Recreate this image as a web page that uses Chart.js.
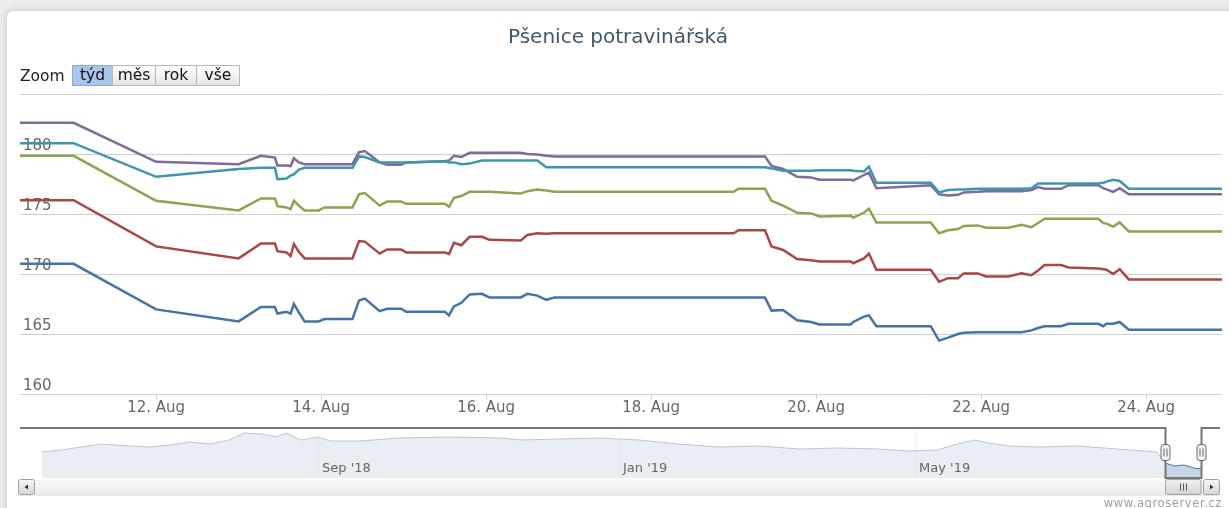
<!DOCTYPE html>
<html lang="cs">
<head>
<meta charset="utf-8">
<title>Pšenice potravinářská</title>
<script src="https://cdn.jsdelivr.net/npm/chart.js@4.4.1/dist/chart.umd.min.js"></script>
<style>
  html, body { margin: 0; padding: 0; }
  body { width: 1229px; height: 508px; overflow: hidden; background: #ececec; position: relative; font-family: "DejaVu Sans", sans-serif; }
  #panel { position: absolute; left: 7px; top: 11px; width: 1240px; height: 520px; background: #fff; border-radius: 6px; box-shadow: 0 0 7px rgba(0,0,0,0.18); }
  #mainWrap { position: absolute; left: 0; top: 0; width: 1229px; height: 420px; }
  #navWrap { position: absolute; left: 0; top: 415px; width: 1229px; height: 93px; }
  #zoom { position: absolute; left: 20px; top: 65px; height: 21px; display: flex; align-items: center; font-size: 15.5px; color: #222; }
  #zoom .lbl { width: 53px; }
  #zoom .btn { box-sizing: border-box; height: 21px; line-height: 19px; border: 1px solid #b8b8b8; background: linear-gradient(#ffffff, #e4e4e4); text-align: center; margin-left: -1px; color: #111; }
  #zoom .btn.on { background: #a9c5ec; border-color: #8aaad6; }
  #credits { position: absolute; right: 7px; top: 496px; font-size: 11.5px; letter-spacing: 0.6px; color: #a0a0a0; }
</style>
</head>
<body>
<div id="panel"></div>
<div id="mainWrap"><canvas id="mainChart"></canvas></div>
<div id="navWrap"><canvas id="navChart"></canvas></div>
<div id="zoom">
  <span class="lbl">Zoom</span>
  <span class="btn on" style="width:41px">týd</span>
  <span class="btn" style="width:44px">měs</span>
  <span class="btn" style="width:42px">rok</span>
  <span class="btn" style="width:44px">vše</span>
</div>
<div id="credits">www.agroserver.cz</div>

<script>
const chartTitle = 'Pšenice potravinářská';
const monthName = 'Aug';

// den v srpnu 2019 (desetinne = cast dne)
const days = [10.35, 11.0, 12.0, 13.0, 13.27, 13.44, 13.47, 13.58, 13.63, 13.67,
  13.73, 13.80, 13.97, 14.04, 14.38, 14.46, 14.53, 14.71, 14.80, 14.97,
  15.03, 15.50, 15.55, 15.61, 15.70, 15.80, 15.95, 16.04, 16.42, 16.50,
  16.62, 16.73, 16.83, 19.00, 19.06, 19.38, 19.46, 19.60, 19.77, 19.94,
  20.04, 20.42, 20.45, 20.58, 20.64, 20.73, 21.39, 21.49, 21.60, 21.72,
  21.79, 21.96, 22.06, 22.33, 22.49, 22.61, 22.69, 22.77, 22.97, 23.06,
  23.42, 23.48, 23.52, 23.60, 23.68, 23.79, 24.92];

const blueValues = [170.85, 170.85, 167.05, 166.05, 167.25, 167.25, 166.7, 166.85, 166.7, 167.5,
  166.8, 166.05, 166.05, 166.25, 166.25, 167.8, 167.95, 166.9, 167.1, 167.1,
  166.85, 166.85, 166.55, 167.3, 167.6, 168.3, 168.35, 168.05, 168.05, 168.35,
  168.2, 167.85, 168.05, 168.05, 168.05, 168.05, 166.95, 167.0, 166.15, 166.0,
  165.8, 165.8, 166.0, 166.45, 166.55, 165.65, 165.65, 164.45, 164.7, 165.0,
  165.1, 165.15, 165.15, 165.15, 165.15, 165.3, 165.5, 165.65, 165.65, 165.85,
  165.85, 165.65, 165.85, 165.85, 166.0, 165.35, 165.35];

const redValues = [176.15, 176.15, 172.3, 171.3, 172.55, 172.55, 171.9, 171.8, 171.5, 172.5,
  171.85, 171.3, 171.3, 171.3, 171.3, 172.75, 172.7, 171.7, 172.05, 172.05,
  171.8, 171.8, 171.65, 172.6, 172.4, 173.1, 173.1, 172.85, 172.8, 173.25,
  173.4, 173.35, 173.4, 173.4, 173.65, 173.65, 172.3, 172.0, 171.25, 171.15,
  171.05, 171.05, 170.9, 171.3, 171.7, 170.35, 170.35, 169.35, 169.65, 169.65,
  170.05, 170.05, 169.8, 169.8, 170.05, 169.9, 170.3, 170.75, 170.75, 170.55,
  170.45, 170.4, 170.35, 170.0, 170.4, 169.55, 169.55];

const greenValues = [179.85, 179.85, 176.1, 175.3, 176.3, 176.3, 175.65, 175.55, 175.4, 176.1,
  175.7, 175.3, 175.3, 175.55, 175.55, 176.65, 176.75, 175.7, 176.05, 176.05,
  175.85, 175.85, 175.6, 176.35, 176.5, 176.85, 176.85, 176.85, 176.7, 176.9,
  177.05, 176.95, 176.85, 176.85, 177.1, 177.1, 176.1, 175.7, 175.1, 175.05,
  174.8, 174.85, 174.7, 175.1, 175.45, 174.3, 174.3, 173.4, 173.65, 173.75,
  174.0, 174.05, 173.85, 173.85, 174.1, 173.9, 174.25, 174.6, 174.6, 174.6,
  174.6, 174.25, 174.2, 173.95, 174.3, 173.55, 173.55];

const purpleValues = [182.6, 182.6, 179.35, 179.15, 179.85, 179.7, 179.05, 179.05, 179.0, 179.65,
  179.3, 179.15, 179.15, 179.15, 179.15, 180.15, 180.25, 179.3, 179.1, 179.1,
  179.3, 179.4, 179.45, 179.85, 179.75, 180.1, 180.1, 180.1, 180.1, 180.0,
  179.95, 179.85, 179.8, 179.8, 179.8, 179.8, 179.0, 178.75, 178.1, 178.05,
  177.85, 177.85, 177.8, 178.25, 178.45, 177.15, 177.4, 176.65, 176.55, 176.6,
  176.8, 176.85, 176.9, 176.9, 176.9, 177.0, 177.25, 177.1, 177.1, 177.4,
  177.4, 177.15, 177.05, 176.85, 177.15, 176.65, 176.65];

const tealValues = [180.9, 180.9, 178.1, 178.75, 178.85, 178.85, 177.9, 177.95, 178.2, 178.3,
  178.7, 178.85, 178.85, 178.85, 178.85, 179.8, 179.75, 179.3, 179.3, 179.3,
  179.3, 179.4, 179.3, 179.3, 179.15, 179.2, 179.45, 179.45, 179.45, 179.45,
  179.45, 178.9, 178.9, 178.9, 178.9, 178.9, 178.8, 178.6, 178.6, 178.6,
  178.65, 178.65, 178.6, 178.55, 178.95, 177.6, 177.6, 176.8, 177.0, 177.05,
  177.05, 177.1, 177.1, 177.1, 177.1, 177.15, 177.55, 177.55, 177.55, 177.55,
  177.55, 177.6, 177.7, 177.85, 177.75, 177.1, 177.1];

const xTickDays = [12, 14, 16, 18, 20, 22, 24];
const yTickValues = [160, 165, 170, 175, 180, 185];
const xMin = 10.35;
const xMax = 24.92;

// navigator: dny od 1. 9. 2018
const navDays = [-112, -104, -96, -88, -76, -68, -60, -52, -44, -36,
  -30, -23, -17, -13, -7, 0, 5, 17, 33, 53,
  74, 82, 98, 114, 130, 146, 162, 179, 195, 211,
  227, 239, 251, 259, 266, 272, 280, 292, 308, 324,
  340, 343.4, 347, 351, 355, 358];
const navValues = [181, 183, 186, 189, 187, 186, 188, 191, 189, 193,
  200, 199, 196, 200, 193, 196, 192, 192, 195, 196,
  195, 193, 194, 195, 193, 189, 186, 187, 184, 185,
  184, 182, 183, 189, 193, 190, 187, 186, 187, 184,
  181, 170, 167, 168, 165, 164];
const navTickDays = [0, 122, 242];
const navTickLabels = ["Sep '18", "Jan '19", "May '19"];
const navMin = -120.8;
const navMax = 365.6;
const aug1Offset = 334; // 1. 8. 2019 od 1. 9. 2018

const FONT = "'DejaVu Sans', sans-serif";

function line(values, color) {
  return {
    data: days.map((d, i) => ({ x: d, y: values[i] })),
    borderColor: color,
    borderWidth: 2.5,
    pointRadius: 0,
    tension: 0,
    fill: false
  };
}

new Chart(document.getElementById('mainChart'), {
  type: 'line',
  data: {
    datasets: [
      line(tealValues, '#3D96AE'),
      line(purpleValues, '#80699B'),
      line(greenValues, '#89A54E'),
      line(redValues, '#AA4643'),
      line(blueValues, '#4572A7')
    ]
  },
  options: {
    responsive: true,
    maintainAspectRatio: false,
    animation: false,
    layout: { padding: { top: 0, left: 14, right: 7, bottom: 3 } },
    plugins: {
      legend: { display: false },
      tooltip: { enabled: false },
      title: {
        display: true,
        text: chartTitle,
        color: '#3E576F',
        font: { family: FONT, size: 20, weight: 'normal' },
        padding: { top: 26, bottom: 44 }
      }
    },
    scales: {
      x: {
        type: 'linear',
        min: xMin,
        max: xMax,
        afterBuildTicks: s => { s.ticks = xTickDays.map(v => ({ value: v })); },
        ticks: {
          callback: v => v + '. ' + monthName,
          color: '#666',
          font: { family: FONT, size: 15 },
          padding: 0,
          maxRotation: 0,
          autoSkip: false
        },
        grid: { drawOnChartArea: false, drawTicks: true, tickLength: 5, color: '#C0D0E0' },
        border: { display: false }
      },
      y: {
        min: 160,
        max: 185,
        afterBuildTicks: s => { s.ticks = yTickValues.map(v => ({ value: v })); },
        ticks: {
          mirror: true,
          padding: 3,
          labelOffset: -8,
          color: '#666',
          font: { family: FONT, size: 15 },
          callback: v => (v < 185 ? v : '')
        },
        grid: { color: '#cfcfcf', drawTicks: false },
        border: { display: false }
      }
    }
  }
});

// maska, obrys, uchyty a posuvnik navigatoru
const selFrom = aug1Offset + xMin - 1;
const selTo = aug1Offset + xMax - 1;

function rrect(ctx, x, y, w, h, r) {
  ctx.beginPath();
  if (ctx.roundRect) ctx.roundRect(x, y, w, h, r); else ctx.rect(x, y, w, h);
}

const navDecor = {
  id: 'navDecor',
  afterDatasetsDraw(chart) {
    const { ctx, chartArea: a, scales: { x } } = chart;
    const x1 = Math.round(x.getPixelForValue(selFrom)) + 0.5;
    const x2 = Math.round(x.getPixelForValue(selTo)) + 0.5;
    ctx.save();
    ctx.fillStyle = 'rgba(255,255,255,0.6)';
    ctx.fillRect(a.left, a.top, x1 - a.left, a.bottom - a.top);
    ctx.fillRect(x2, a.top, a.right - x2, a.bottom - a.top);

    ctx.strokeStyle = '#777';
    ctx.lineWidth = 2;
    ctx.beginPath();
    ctx.moveTo(a.left, a.top);
    ctx.lineTo(x1, a.top);
    ctx.lineTo(x1, a.bottom);
    ctx.lineTo(x2, a.bottom);
    ctx.lineTo(x2, a.top);
    ctx.lineTo(a.right, a.top);
    ctx.stroke();

    // uchyty
    const hy = Math.round((a.top + a.bottom) / 2) - 8.5;
    [x1, x2].forEach(hx => {
      ctx.lineWidth = 1;
      rrect(ctx, hx - 4.5, hy, 9, 16, 3);
      ctx.fillStyle = '#f4f4f4';
      ctx.fill();
      ctx.strokeStyle = '#666';
      ctx.stroke();
      ctx.beginPath();
      ctx.moveTo(hx - 1.5, hy + 4); ctx.lineTo(hx - 1.5, hy + 12);
      ctx.moveTo(hx + 1.5, hy + 4); ctx.lineTo(hx + 1.5, hy + 12);
      ctx.stroke();
    });

    // posuvnik
    const sy = a.bottom + 1.5;
    const sh = 15;
    const left = a.left - 2;
    const right = a.right;
    const g = ctx.createLinearGradient(0, sy, 0, sy + sh);
    g.addColorStop(0, '#f8f8f8');
    g.addColorStop(1, '#ececec');
    ctx.fillStyle = g;
    ctx.fillRect(left, sy, right - left, sh);
    ctx.strokeStyle = '#d4d4d4';
    ctx.lineWidth = 1;
    ctx.beginPath();
    ctx.moveTo(left, sy + sh + 0.5); ctx.lineTo(right, sy + sh + 0.5);
    ctx.stroke();

    const btn = (bx, dir) => {
      const bg = ctx.createLinearGradient(0, sy, 0, sy + sh);
      bg.addColorStop(0, '#f6f6f6');
      bg.addColorStop(1, '#d6d6d6');
      rrect(ctx, bx + 0.5, sy, 16, sh, 2);
      ctx.fillStyle = bg;
      ctx.fill();
      ctx.strokeStyle = '#a0a0a0';
      ctx.stroke();
      const cx = bx + 8.5, cy = sy + sh / 2;
      ctx.beginPath();
      ctx.moveTo(cx - 2 * dir, cy);
      ctx.lineTo(cx + 1.5 * dir, cy - 2.5);
      ctx.lineTo(cx + 1.5 * dir, cy + 2.5);
      ctx.closePath();
      ctx.fillStyle = '#333';
      ctx.fill();
    };
    btn(left, 1);
    const rbx = right - 17;
    btn(rbx, -1);

    const t2 = Math.min(x2, rbx - 2);
    const tg = ctx.createLinearGradient(0, sy, 0, sy + sh);
    tg.addColorStop(0, '#f2f2f2');
    tg.addColorStop(1, '#d2d2d2');
    rrect(ctx, x1, sy, t2 - x1, sh, 2);
    ctx.fillStyle = tg;
    ctx.fill();
    ctx.strokeStyle = '#a0a0a0';
    ctx.stroke();
    const tc = Math.round((x1 + t2) / 2) + 0.5;
    ctx.strokeStyle = '#555';
    ctx.beginPath();
    [-3, 0, 3].forEach(o => { ctx.moveTo(tc + o, sy + 4); ctx.lineTo(tc + o, sy + sh - 4); });
    ctx.stroke();
    ctx.restore();
  }
};

new Chart(document.getElementById('navChart'), {
  type: 'line',
  data: {
    datasets: [{
      data: navDays.map((d, i) => ({ x: d, y: navValues[i] })),
      borderColor: '#4572A7',
      borderWidth: 1,
      backgroundColor: 'rgba(69,114,167,0.3)',
      fill: 'start',
      pointRadius: 0,
      tension: 0
    }]
  },
  options: {
    responsive: true,
    maintainAspectRatio: false,
    animation: false,
    layout: { padding: { top: 13, left: 20, right: 9, bottom: 26 } },
    plugins: { legend: { display: false }, tooltip: { enabled: false } },
    scales: {
      x: {
        type: 'linear',
        min: navMin,
        max: navMax,
        afterBuildTicks: s => { s.ticks = navTickDays.map(v => ({ value: v })); },
        ticks: {
          z: 1,
          mirror: true,
          align: 'start',
          labelOffset: 4,
          padding: 2,
          color: '#666',
          font: { family: FONT, size: 13 },
          callback: (v, i) => navTickLabels[i],
          maxRotation: 0,
          autoSkip: false
        },
        grid: { color: '#e2e2e2', drawTicks: false },
        border: { display: false }
      },
      y: { display: false, min: 155, max: 205 }
    }
  },
  plugins: [navDecor]
});
</script>
</body>
</html>
